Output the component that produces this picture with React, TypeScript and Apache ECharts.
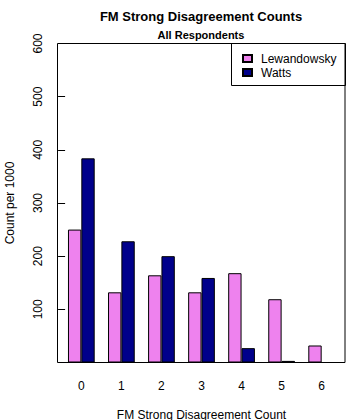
import React, { useEffect, useRef } from "react";
import * as echarts from "echarts";

const categories = ["0", "1", "2", "3", "4", "5", "6"];
const lewandowsky = [250, 132, 164, 132, 168, 119, 32];
const watts = [384, 228, 200, 159, 27, 3, 0];
const yTicks = [100, 200, 300, 400, 500, 600];

const FONT = "Liberation Sans, Arial, sans-serif";

const toBars = (arr: number[]) => arr.map((v) => (v === 0 ? "-" : v));

export default function App() {
  const ref = useRef<HTMLDivElement>(null);
  useEffect(() => {
    if (!ref.current) return;
    const chart = echarts.init(ref.current, null, { renderer: "svg" });
    chart.setOption({
      animation: false,
      backgroundColor: "#fff",
      textStyle: { fontFamily: FONT },
      title: [
        {
          text: "FM Strong Disagreement Counts",
          left: 201,
          top: 9.5,
          padding: 0,
          textAlign: "center",
          textStyle: { fontSize: 13, fontWeight: "bold", color: "#000", fontFamily: FONT },
        },
        {
          text: "All Respondents",
          left: 201,
          top: 29,
          padding: 0,
          textAlign: "center",
          textStyle: { fontSize: 11, fontWeight: "bold", color: "#000", fontFamily: FONT },
        },
      ],
      legend: {
        orient: "vertical",
        left: 242,
        top: 52,
        itemWidth: 9,
        itemHeight: 7,
        itemGap: 1,
        icon: "rect",
        padding: 0,
        textStyle: { fontSize: 12, color: "#000", fontFamily: FONT, lineHeight: 13, padding: [0, 0, 0, 4] },
        data: ["Lewandowsky", "Watts"],
      },
      graphic: [
        {
          type: "rect",
          shape: { x: 57.5, y: 43.5, width: 287.5, height: 319 },
          style: { fill: "none", stroke: "#000", lineWidth: 1 },
          silent: true,
        },
        {
          type: "rect",
          shape: { x: 231.5, y: 43.5, width: 114, height: 42 },
          style: { fill: "none", stroke: "#000", lineWidth: 1 },
          silent: true,
        },
      ],
      grid: {
        left: 61.3,
        width: 280.4,
        top: 43.5,
        height: 319,
        containLabel: false,
        outerBoundsMode: "none",
      },
      xAxis: {
        type: "category",
        data: categories,
        axisLine: { show: false },
        axisTick: { show: false },
        axisLabel: { margin: 17, fontSize: 12, color: "#000", fontFamily: FONT },
        name: "FM Strong Disagreement Count",
        nameLocation: "middle",
        nameGap: 46,
        nameTextStyle: { fontSize: 12, color: "#000", fontFamily: FONT },
      },
      yAxis: {
        type: "value",
        min: 0,
        max: 600,
        interval: 100,
        offset: -3.8,
        splitLine: { show: false },
        axisLine: { show: false },
        axisTick: { show: true, length: 7, customValues: yTicks, lineStyle: { color: "#000" } },
        axisLabel: {
          rotate: 90,
          margin: 21,
          fontSize: 12,
          color: "#000",
          fontFamily: FONT,
          customValues: yTicks,
        },
        name: "Count per 1000",
        nameLocation: "middle",
        nameRotate: 90,
        nameGap: 49,
        nameTextStyle: { fontSize: 12, color: "#000", fontFamily: FONT },
      },
      series: [
        {
          name: "Lewandowsky",
          type: "bar",
          data: toBars(lewandowsky),
          barGap: "0%",
          barCategoryGap: "33.3%",
          itemStyle: { color: "#EE82EE", borderColor: "#000", borderWidth: 1 },
        },
        {
          name: "Watts",
          type: "bar",
          data: toBars(watts),
          barGap: "0%",
          barCategoryGap: "33.3%",
          itemStyle: { color: "#00008B", borderColor: "#000", borderWidth: 1 },
        },
      ],
    });
    return () => chart.dispose();
  }, []);
  return <div ref={ref} style={{ width: 360, height: 420, position: "absolute", left: 0, top: 0 }} />;
}
